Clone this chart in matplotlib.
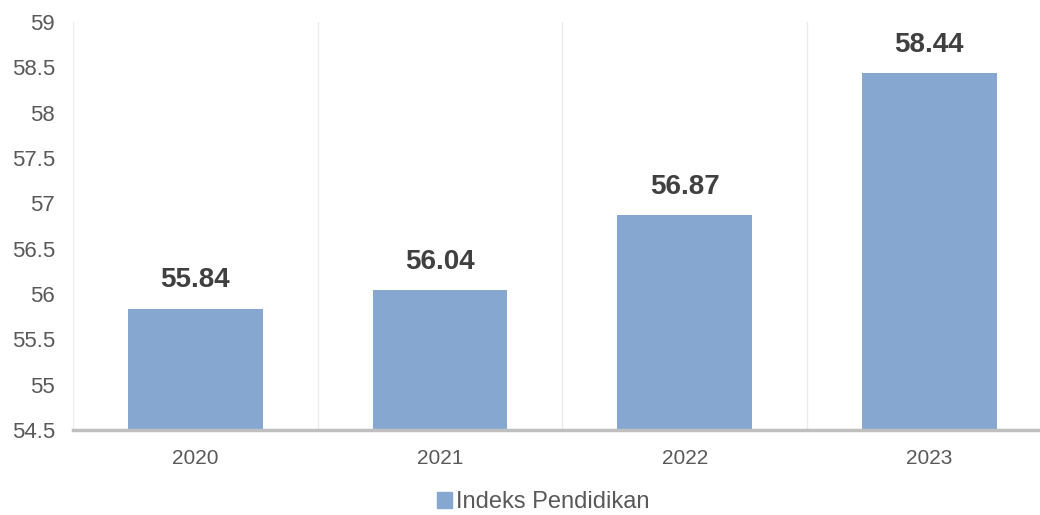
import matplotlib.pyplot as plt
import matplotlib.patches as mpatches

plt.rcParams['font.family'] = ['Liberation Sans', 'DejaVu Sans']

####################################################### data
years = ["2020", "2021", "2022", "2023"]
indeks = [55.84, 56.04, 56.87, 58.44]
y_ticks = [54.5, 55, 55.5, 56, 56.5, 57, 57.5, 58, 58.5, 59]
series_name = "Indeks Pendidikan"

bar_color = "#85A7D0"
text_gray = "#595959"

####################################################### chart
fig = plt.figure(figsize=(10.4, 5.15), dpi=100)
ax = fig.add_axes([0.0702, 0.165, 0.941, 0.792])

x = range(len(years))
ax.bar(x, indeks, width=0.55, color=bar_color, zorder=2)

for i, v in enumerate(indeks):
    ax.annotate(f"{v:.2f}", (i, v), xytext=(0, 11), textcoords="offset points",
                ha="center", va="bottom", fontsize=20, fontweight="bold",
                color="#404040")

ax.set_xlim(-0.5, len(years) - 0.5)
ax.set_ylim(54.5, 59)
ax.set_yticks(y_ticks)
ax.set_yticklabels([f"{t:g}" for t in y_ticks])
ax.set_xticks(list(x))
ax.set_xticklabels(years)

# light vertical separators between categories
for b in range(len(years)):
    ax.axvline(b - 0.5, color="#EBEBEB", lw=1, zorder=1)

for s in ["top", "right", "left"]:
    ax.spines[s].set_visible(False)
ax.spines["bottom"].set_color("#BFBFBF")
ax.spines["bottom"].set_linewidth(2.5)
ax.spines["bottom"].set_zorder(3)

ax.tick_params(axis="both", length=0, labelcolor=text_gray)
ax.tick_params(axis="x", labelsize=15, pad=14)
ax.tick_params(axis="y", labelsize=16, pad=13)

handle = mpatches.Patch(color=bar_color, label=series_name)
fig.legend(handles=[handle], loc="lower center", bbox_to_anchor=(0.522, -0.038),
           frameon=False, fontsize=17, handlelength=0.65, handleheight=0.65,
           handletextpad=0.15, labelcolor=text_gray)

fig.savefig("out.png", dpi=100)
